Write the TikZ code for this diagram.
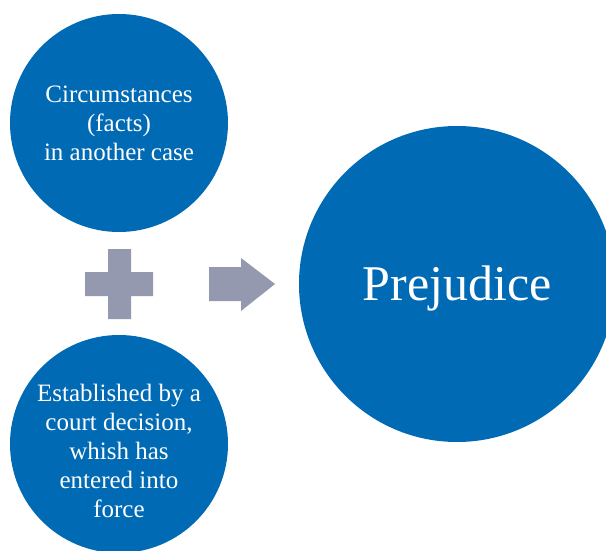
\documentclass[tikz,border=0pt]{standalone}
\usepackage{fontspec}
\setmainfont{Liberation Serif}
\usepackage{tikz}
\definecolor{blu}{RGB}{0,106,180}
\definecolor{gry}{RGB}{148,153,176}
\begin{document}
\begin{tikzpicture}[x=1pt,y=-1pt,bub/.style={circle,fill=blu,text=white,inner sep=0pt,align=center,minimum size=218pt,font=\fontsize{25}{29}\selectfont},big/.style={bub,minimum size=316pt,font=\fontsize{50}{60}\selectfont}]
\useasboundingbox (0,0) rectangle (606,551);
\node[bub] (c1) at (119,123) {Circumstances\\(facts)\\in another case};
\node[bub,label={[text=white,align=center,font=\fontsize{25}{29}\selectfont,yshift=-7pt]center:Established by a\\court decision,\\whish has\\entered into\\force}] (c2) at (119,444) {};
\node[big,label={[text=white,font=\fontsize{50}{60}\selectfont,yshift=-4pt]center:Prejudice}] (p) at (457,284) {};
\fill[gry] (108,249) rectangle (131,319) (85,272) rectangle (153,296);
\fill[gry] (209,267) -- (241,267) -- (241,258) -- (275,284) -- (241,311) -- (241,301) -- (209,301) -- cycle;
\end{tikzpicture}
\end{document}
